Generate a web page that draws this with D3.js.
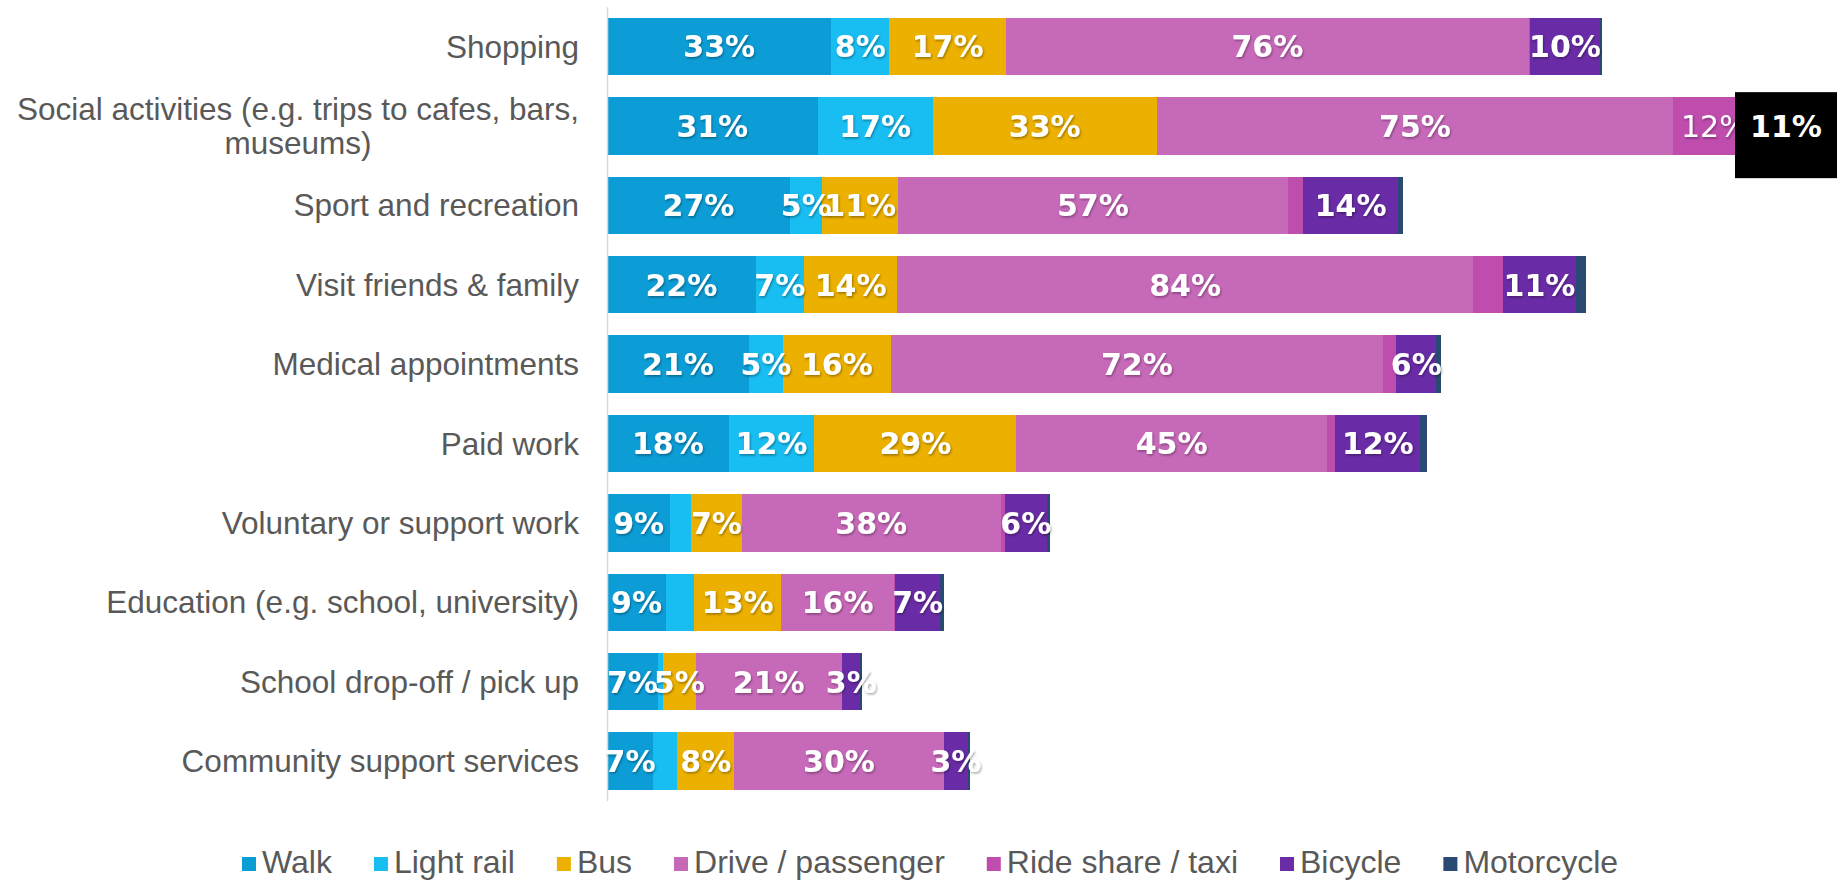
<!DOCTYPE html>
<html><head><meta charset="utf-8">
<script src="https://cdn.jsdelivr.net/npm/d3@7"></script>
<style>
html,body{margin:0;padding:0;background:#fff;}
svg{display:block;}
</style></head>
<body>
<svg id="chart" width="1841" height="880"></svg>
<script>
// ---- data ----
const categories = [
  "Shopping",
  "Social activities (e.g. trips to cafes, bars, museums)",
  "Sport and recreation",
  "Visit friends & family",
  "Medical appointments",
  "Paid work",
  "Voluntary or support work",
  "Education (e.g. school, university)",
  "School drop-off / pick up",
  "Community support services"
];
const seriesNames = ["Walk", "Light rail", "Bus", "Drive / passenger", "Ride share / taxi", "Bicycle", "Motorcycle"];
const walk       = [32.6, 30.6, 26.6, 21.6, 20.6, 17.7, 9.2, 8.6, 7.4, 6.7];
const lightRail  = [8.4, 16.7, 4.7, 7.0, 5.0, 12.4, 3.0, 4.1, 0.7, 3.5];
const bus        = [17.0, 32.6, 11.0, 13.6, 15.6, 29.4, 7.4, 12.6, 4.8, 8.3];
const drive      = [75.9, 75.0, 56.6, 83.6, 71.6, 45.1, 37.6, 16.4, 21.2, 30.4];
const rideShare  = [0.2, 12.0, 2.3, 4.4, 1.9, 1.2, 0.6, 0.2, 0.1, 0.1];
const bicycle    = [10.2, 11.0, 13.7, 10.6, 5.8, 12.4, 6.1, 6.5, 2.6, 3.4];
const motorcycle = [0.3, 0.8, 0.7, 1.5, 0.7, 1.0, 0.4, 0.6, 0.2, 0.4];
const seriesValues = [walk, lightRail, bus, drive, rideShare, bicycle, motorcycle];
// smallest value that gets a data label, per series
const labelMin = [4.5, 4.5, 4.5, 4.5, 4.5, 2.5, Infinity];
// label shown in a black call-out box
const highlight = { category: categories[1], series: "Bicycle" };

// ---- styles ----
const colors = ["#0C9DD6", "#18BEF2", "#EBB000", "#C769B9", "#BE4DAE", "#6A2CA6", "#2A4A73"];
const textColor = "#595959";
const catFont = "'Liberation Sans', Arial, sans-serif";
const valFont = "'DejaVu Sans', sans-serif";

const svg = d3.select("#chart");
const x = d3.scaleLinear().domain([0, 178]).range([607, 1832]);
const y = d3.scaleBand().domain(categories).range([6.8, 800.8]).paddingInner(0.276).paddingOuter(0.138);

const table = categories.map((c, i) => {
  const row = { category: c };
  seriesNames.forEach((s, si) => row[s] = seriesValues[si][i]);
  return row;
});
const stack = d3.stack().keys(seriesNames)(table);

const defs = svg.append("defs");
const f = defs.append("filter").attr("id", "shadow")
  .attr("x", "-30%").attr("y", "-30%").attr("width", "160%").attr("height", "160%");
f.append("feDropShadow").attr("dx", 1).attr("dy", 1.5).attr("stdDeviation", 1.3)
  .attr("flood-color", "#000").attr("flood-opacity", 0.35);

// ---- bars ----
svg.append("g").selectAll("g").data(stack).join("g")
  .attr("fill", (d, i) => colors[i])
  .selectAll("rect").data(d => d).join("rect")
  .attr("shape-rendering", "crispEdges")
  .attr("x", d => x(d[0]))
  .attr("width", d => x(d[1]) - x(d[0]))
  .attr("y", d => y(d.data.category))
  .attr("height", y.bandwidth());

// ---- axis ----
function wrap(texts, maxW) {
  texts.each(function () {
    const t = d3.select(this);
    const words = t.text().split(/\s+/);
    const xPos = +t.attr("x");
    t.text(null).attr("dy", null);
    const lines = [];
    let cur = [];
    const tmp = t.append("tspan");
    for (const w of words) {
      cur.push(w);
      tmp.text(cur.join(" "));
      if (tmp.node().getComputedTextLength() > maxW && cur.length > 1) {
        cur.pop(); lines.push(cur.join(" ")); cur = [w];
      }
    }
    lines.push(cur.join(" "));
    tmp.remove();
    const lh = 1.08;
    const spans = lines.map(l => t.append("tspan").text(l));
    const widths = spans.map(s => s.node().getComputedTextLength());
    const maxLen = Math.max(...widths);
    spans.forEach((s, i) => {
      const longest = widths[i] === maxLen;
      s.attr("x", longest ? xPos : xPos - maxLen / 2)
       .attr("text-anchor", longest ? "end" : "middle")
       .attr("y", 0)
       .attr("dy", (0.35 + (i - (lines.length - 1) / 2) * lh) + "em");
    });
  });
}
const gAxis = svg.append("g").attr("transform", `translate(${x(0)},0)`)
  .call(d3.axisLeft(y).tickSize(0).tickSizeOuter(0).tickPadding(28));
gAxis.select(".domain").attr("stroke", "#d9d9d9").attr("stroke-width", 1.5);
gAxis.selectAll(".tick text")
  .attr("font-family", catFont).attr("font-size", 31.5).attr("fill", textColor)
  .call(wrap, 590);

// ---- value labels ----
const gLab = svg.append("g");
stack.forEach((layer, si) => {
  layer.forEach(seg => {
    const v = seg[1] - seg[0];
    if (v < labelMin[si]) return;
    const cx = (x(seg[0]) + x(seg[1])) / 2;
    const cy = y(seg.data.category) + y.bandwidth() / 2;
    const isHi = highlight.category === seg.data.category && highlight.series === seriesNames[si];
    if (isHi) {
      const bw = 102, bh = 86;
      let bx = cx - bw / 2;
      bx = Math.min(bx, 1837 - bw);
      gLab.append("rect").attr("x", bx).attr("y", y(seg.data.category) - 5)
        .attr("width", bw).attr("height", bh).attr("fill", "#000");
      gLab.append("text").attr("x", bx + bw / 2).attr("y", cy).attr("dy", "0.36em")
        .attr("text-anchor", "middle").attr("font-family", valFont).attr("font-weight", "bold")
        .attr("font-size", 30).attr("fill", "#fff").text(Math.round(v) + "%");
      return;
    }
    gLab.append("text").attr("x", cx).attr("y", cy).attr("dy", "0.36em")
      .attr("text-anchor", "middle").attr("font-family", valFont)
      .attr("font-weight", seriesNames[si] === "Ride share / taxi" ? "normal" : "bold")
      .attr("font-size", 30).attr("fill", "#fff").attr("filter", "url(#shadow)")
      .text(Math.round(v) + "%");
  });
});
// keep call-out on top
gLab.selectAll("rect").raise();
gLab.selectAll("text").filter(function () { return !this.getAttribute("filter"); }).raise();

// ---- legend ----
const legend = svg.append("g").attr("transform", "translate(242,873)");
let lx = 0;
seriesNames.forEach((n, i) => {
  const g = legend.append("g").attr("transform", `translate(${lx},0)`);
  g.append("rect").attr("x", 0).attr("y", -16).attr("width", 14).attr("height", 14).attr("fill", colors[i]);
  const t = g.append("text").attr("x", 20).attr("y", 0).text(n)
    .attr("font-family", catFont).attr("font-size", 32).attr("fill", textColor);
  lx += 20 + t.node().getComputedTextLength() + 42;
});
</script>
</body></html>
